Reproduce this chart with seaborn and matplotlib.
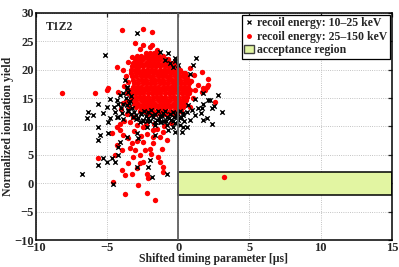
import numpy as np
import pandas as pd
import matplotlib
matplotlib.use("Agg")
import matplotlib.pyplot as plt
from matplotlib.patches import Rectangle, Patch
from matplotlib.lines import Line2D
import seaborn as sns

# --- valores ---
# nucleo denso dos eventos 25-150 keV (uma linha por valor de y)
core_rows = [
    (23.0, [-2.3, -2.0, -1.7, -1.45]),
    (22.4, [-2.9, -2.6, -2.3, -2.0, -1.7, -1.4, -1.1]),
    (21.8, [-3.05, -2.75, -2.45, -2.15, -1.85, -1.55, -1.25, -0.95, -0.7]),
    (21.2, [-3.2, -2.9, -2.6, -2.3, -2.0, -1.7, -1.4, -1.1, -0.8, -0.5, -0.3]),
    (20.6, [-3.25, -3.0, -2.75, -2.45, -2.15, -1.85, -1.55, -1.25, -0.95, -0.65, -0.35, -0.1]),
    (20.0, [-3.3, -3.05, -2.8, -2.5, -2.2, -1.9, -1.6, -1.3, -1.0, -0.7, -0.4, -0.1, 0.15]),
    (19.4, [-3.3, -3.0, -2.7, -2.4, -2.1, -1.8, -1.5, -1.2, -0.9, -0.6, -0.3, 0.0, 0.3, 0.5]),
    (18.8, [-3.25, -2.95, -2.65, -2.35, -2.05, -1.75, -1.45, -1.15, -0.85, -0.55, -0.25, 0.05, 0.35, 0.6]),
    (18.2, [-3.15, -2.85, -2.55, -2.25, -1.95, -1.65, -1.35, -1.05, -0.75, -0.45, -0.15, 0.15, 0.45, 0.7]),
    (17.6, [-3.1, -2.8, -2.5, -2.2, -1.9, -1.6, -1.3, -1.0, -0.7, -0.4, -0.1, 0.2, 0.5, 0.75]),
    (17.0, [-3.2, -2.9, -2.6, -2.3, -2.0, -1.7, -1.4, -1.1, -0.8, -0.5, -0.2, 0.1, 0.4, 0.7]),
    (16.4, [-3.3, -3.0, -2.7, -2.4, -2.1, -1.8, -1.5, -1.2, -0.9, -0.6, -0.3, 0.0, 0.3, 0.6, 0.8]),
    (15.8, [-3.35, -3.05, -2.75, -2.45, -2.15, -1.85, -1.55, -1.25, -0.95, -0.65, -0.35, -0.05, 0.25, 0.55, 0.75]),
    (15.2, [-3.3, -3.0, -2.7, -2.4, -2.1, -1.8, -1.5, -1.2, -0.9, -0.6, -0.3, 0.0, 0.3, 0.6]),
    (14.6, [-3.25, -2.95, -2.65, -2.35, -2.05, -1.75, -1.45, -1.15, -0.85, -0.55, -0.25, 0.05, 0.35, 0.55]),
    (14.0, [-3.1, -2.8, -2.5, -2.2, -1.9, -1.6, -1.3, -1.0, -0.7, -0.4, -0.1, 0.2, 0.45]),
    (13.4, [-2.95, -2.65, -2.35, -2.05, -1.75, -1.45, -1.15, -0.85, -0.55, -0.25, 0.05, 0.3]),
    (12.8, [-2.7, -2.4, -2.1, -1.8, -1.5, -1.2, -0.9, -0.6, -0.3, 0.0, 0.2]),
    (12.2, [-2.2, -1.9, -1.6, -1.3, -1.0, -0.7, -0.4, -0.1]),
]

# eventos 25-150 keV espalhados
red_x = [-3.98, -2.45, -1.85, -3.05, -2.47, -1.87, -1.52, -2.0, -2.7, -3.28, -3.52, -3.87,
         -4.33, -3.52, -3.63, -5.03, -8.2, -5.86, -4.92, -3.7, -3.5, -3.6, -3.45,
         1.64, 2.1, 1.87, 1.64, 2.57, 1.4, 1.75, 1.17, 0.9, 1.1, 0.8, 1.0, 2.0, 2.1, 0.85,
         -4.33, -3.87, -4.1, -4.1, -4.68, -2.47, -1.76, -1.06, -4.33, -3.98, -4.45, -3.52,
         -3.98, -3.75, -3.28, -2.93, -2.7, -2.47, -2.23, -2.12, -2.81, -4.57, -3.75, -2.23,
         -1.64, -5.62, -1.06, -1.29, -1.06, -1.41, -1.17, -1.76, -2.0, -2.35, -3.05, -3.28,
         -3.17, -2.7, -1.29, -0.82, -1.76, -2.9, -2.5, -3.5, -2.2, -1.5, -3.1, -2.6, -1.9,
         -3.4, -3.8, -3.4, -2.9, -2.3, -1.7, -1.0, -0.5, -3.2, -3.6, -4.0, -3.9, -4.2,
         -3.8, 3.2]
red_y = [27.0, 27.1, 26.6, 24.6, 24.3, 24.3, 23.4, 24.0, 23.6, 22.3, 21.4, 19.9,
         20.5, 17.9, 15.8, 16.4, 15.8, 15.8, 16.7, 18.8, 16.5, 14.5, 13.5,
         19.6, 18.4, 16.4, 16.1, 14.3, 17.3, 16.7, 16.4, 18.0, 19.0, 20.2, 15.0, 17.0, 17.3, 13.5,
         9.9, 8.5, 10.5, 9.35, 8.8, 9.9, 9.35, 9.05, 6.7, 5.8, 4.95, 3.5,
         2.3, 1.4, 1.7, 2.6, 3.5, 3.8, 1.7, 0.85, -0.3, 0.2, -1.9, -1.8,
         -3.0, 4.4, 2.9, 3.8, 2.0, 4.6, 6.1, 7.0, 6.1, 5.8, 5.8, 7.0,
         4.6, 4.95, 8.2, 7.6, 8.2, 7.5, 7.2, 8.0, 8.6, 9.5, 9.2, 8.4, 5.2,
         6.2, 11.0, 10.8, 10.2, 10.5, 10.4, 10.0, 10.6, 11.6, 12.2, 13.0, 14.2, 16.0,
         17.2, 1.1]

# eventos 10-25 keV
black_x = [-2.9, -5.15, -1.29, -0.71, -0.24, -0.94, 0.0, 1.28, 1.05, 0.81, -0.36, -0.6, -0.2,
           -6.33, -6.44, -5.62, -4.8, -5.03, -4.45, -4.22, -5.62, -4.92, -4.33, -3.75, -3.63,
           -4.1, -3.52, -3.87, -4.8, -4.33, -3.98, -4.22, -3.87, -3.63, -3.7, -3.45, -3.5,
           -3.3, -3.2, -4.0, -4.5, -3.9, -5.5, -4.92, -6.0, -5.3,
           -3.0, -2.8, -2.6, -2.5, -2.3, -2.1, -2.0, -1.8, -1.6, -1.5, -1.3, -1.1, -1.0, -0.8,
           -0.6, -0.5, -0.3, -0.1, 0.0, 0.2, 0.35, -2.7, -2.2, -1.2, -0.2, 0.4, -2.4, -1.9,
           -1.4, -0.9, -0.4, 0.1,
           -2.95, -2.65, -2.45, -2.15, -1.85, -1.65, -1.35, -1.15, -0.85, -0.65, -0.35, -0.15,
           0.1, 0.3, -3.1, -3.25, -3.4, -3.6, -3.35, -3.55,
           -2.93, -2.23, -1.64, -1.29, -0.82, -0.36, 0.11, 0.58, -0.71, -0.24, 0.34, 0.23,
           -3.63, -4.1, -4.22, -5.62, -2.81, -1.64,
           -6.79, -5.62, -5.27, -5.03, -4.68, -4.45, -4.57, -4.22, -2.93, -2.12, -1.87, -2.0, -0.82,
           2.22, 2.8, 1.75, 1.4, 1.63, 1.99, 1.17, 0.93, 0.81, 2.34, 1.17, 1.75, 2.1, 2.34,
           3.04, 1.64, 1.75, 2.5, 0.6, 0.7]
black_y = [26.5, 22.6, 23.1, 22.9, 22.0, 21.7, 20.8, 22.0, 20.8, 19.3, 20.5, 21.2, 21.5,
           12.6, 11.4, 14.0, 14.9, 13.45, 12.6, 11.7, 9.9, 10.8, 14.6, 18.2, 17.0,
           15.5, 12.9, 14.0, 11.4, 11.7, 12.3, 14.0, 15.8, 16.7, 15.0, 14.2, 16.0,
           12.2, 11.6, 13.2, 13.5, 11.3, 8.5, 8.8, 12.0, 12.3,
           12.0, 11.5, 12.3, 11.2, 11.8, 12.5, 11.0, 11.6, 12.2, 11.2, 11.8, 12.4, 11.0, 11.6,
           12.1, 11.2, 11.7, 12.3, 11.1, 11.6, 12.3, 10.8, 10.9, 10.7, 10.6, 10.9, 12.8, 12.9,
           12.7, 12.8, 12.6, 12.7,
           11.3, 12.1, 10.9, 11.4, 12.0, 10.8, 11.3, 11.9, 10.9, 11.4, 11.0, 11.9,
           11.4, 12.0, 12.6, 13.3, 14.5, 13.7, 15.4, 12.8,
           8.8, 9.9, 10.2, 10.8, 10.2, 9.9, 10.2, 9.9, 9.35, 9.05, 9.9, 9.05,
           8.2, 7.3, 6.4, 7.6, 7.9, 8.5,
           1.7, 3.2, 4.4, 3.8, 4.4, 3.8, -0.05, 5.0, 2.9, 2.9, 1.1, 4.1, 1.7,
           14.6, 15.5, 14.0, 13.2, 12.3, 11.4, 12.0, 12.9, 11.1, 10.5, 14.9, 15.8, 14.6, 13.2,
           12.6, 13.2, 11.1, 13.6, 12.5, 13.8]

# regiao de aceitacao
acc_x = [0, 15]
acc_y = [-2, 2]

x_lim = [-10, 15]
y_lim = [-10, 30]
x_ticks = [-10, -5, 0, 5, 10, 15]
y_ticks = [-10, -5, 0, 5, 10, 15, 20, 25, 30]

# --- montar DataFrames ---
core_x = [x for y, xs in core_rows for x in xs]
core_y = [y for y, xs in core_rows for x in xs]
red_df = pd.DataFrame({'t': core_x + red_x, 'y': core_y + red_y})
black_df = pd.DataFrame({'t': black_x, 'y': black_y})

sns.set_style("white")
plt.rcParams['font.family'] = ['Liberation Serif', 'DejaVu Serif']
plt.rcParams['font.weight'] = 'bold'
plt.rcParams['axes.labelweight'] = 'bold'

fig = plt.figure(figsize=(3.99, 2.67), dpi=100)
ax = fig.add_axes([0.09, 0.101, 0.892, 0.851])

red_cor = '#ff0000'
acc_cor = '#e2f5a2'

sns.scatterplot(data=red_df, x='t', y='y', color=red_cor, s=15, linewidth=0, ax=ax, zorder=3)
sns.scatterplot(data=black_df, x='t', y='y', color='black', marker='x', s=10, linewidth=1.0,
                ax=ax, zorder=4)

ax.add_patch(Rectangle((acc_x[0], acc_y[0]), acc_x[1] - acc_x[0], acc_y[1] - acc_y[0],
                       facecolor=acc_cor, edgecolor='black', linewidth=1.1, zorder=2))
ax.axvline(0, color='#606060', linewidth=1.3, zorder=5)

ax.set_xlim(x_lim)
ax.set_ylim(y_lim)
ax.set_xticks(x_ticks)
ax.set_yticks(y_ticks)
ax.grid(True, linestyle=':', color='#b0b0b0', linewidth=0.6)
ax.set_axisbelow(True)
ax.tick_params(direction='in', length=3, width=0.9, top=True, right=True, labelsize=9, pad=1.5)
for s in ax.spines.values():
    s.set_linewidth(1.1)
    s.set_color('black')

ax.set_xlabel('Shifted timing parameter [μs]', fontsize=8.5, labelpad=-1)
ax.set_ylabel('Normalized ionization yield', fontsize=8.5, labelpad=0)
ax.text(-9.3, 27.5, 'T1Z2', fontsize=8.5, fontweight='bold', ha='left', va='center')

handles = [
    Line2D([], [], color='black', marker='x', linestyle='none', markersize=3, markeredgewidth=0.9),
    Line2D([], [], color=red_cor, marker='o', linestyle='none', markersize=2.5),
    Patch(facecolor=acc_cor, edgecolor='#404040', linewidth=1),
]
labels = ['recoil energy: 10–25 keV', 'recoil energy: 25–150 keV', 'acceptance region']
leg = ax.legend(handles, labels, loc='upper right', bbox_to_anchor=(1.0, 1.0), borderaxespad=0.15,
                fontsize=8.5, frameon=True, fancybox=False, framealpha=1, edgecolor='black',
                handlelength=0.8, handletextpad=0.3, borderpad=0.2, labelspacing=0.15)
leg.get_frame().set_linewidth(0.9)
leg.set_zorder(10)

fig.savefig('out.png', dpi=100)
